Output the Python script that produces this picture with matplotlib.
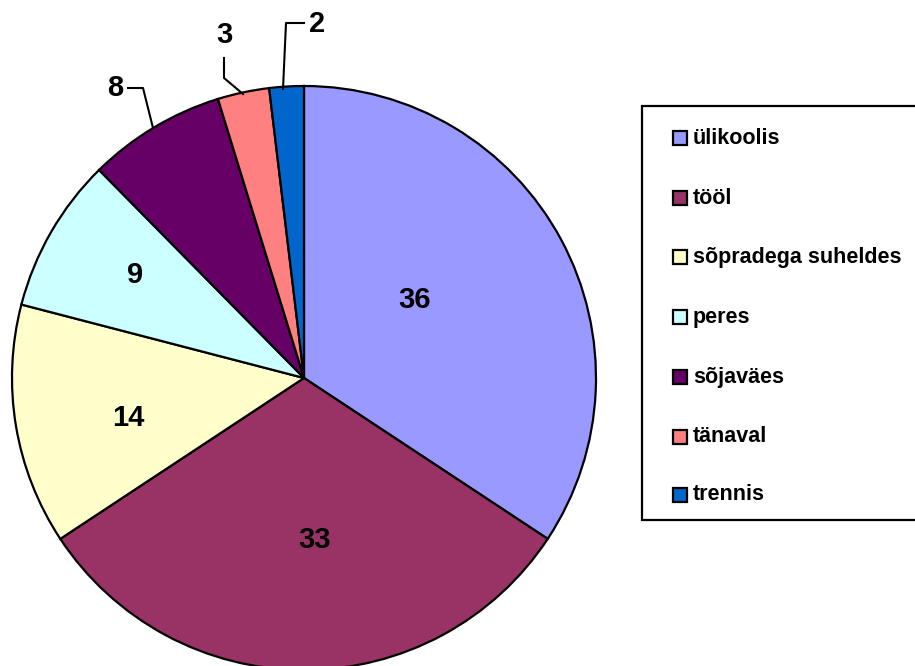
import matplotlib
matplotlib.use('Agg')
import matplotlib.pyplot as plt
from matplotlib.patches import Rectangle

categories = ['ülikoolis', 'tööl', 'sõpradega suheldes', 'peres', 'sõjaväes', 'tänaval', 'trennis']
values = [36, 33, 14, 9, 8, 3, 2]
colors = ['#9999FF', '#993366', '#FFFFCC', '#CCFFFF', '#660066', '#FF8080', '#0066CC']

# label positions (image pixel coords, y down)
label_pos = [(415, 300), (315, 540), (128, 418), (135, 275), (115, 88), (224, 35), (317, 24)]
# leader lines for small slices (image pixel coords)
leaders = {
    4: [(128, 88), (143, 88), (153, 128)],
    5: [(224, 58), (224, 78), (243, 94)],
    6: [(304, 23), (286, 23), (283, 89)],
}

W, H = 915, 666
plt.rcParams['font.family'] = ['Liberation Sans', 'DejaVu Sans']
fig = plt.figure(figsize=(W / 100, H / 100), dpi=100)
ax = fig.add_axes([0, 0, 1, 1])

def Y(y):
    return H - y

cx, cy, r = 304, 378, 292
ax.pie(values, colors=colors, startangle=90, counterclock=False,
       center=(cx, Y(cy)), radius=r,
       wedgeprops=dict(edgecolor='black', linewidth=1.6))
ax.set_xlim(0, W)
ax.set_ylim(0, H)
ax.set_aspect('auto')
ax.axis('off')

for i, v in enumerate(values):
    x, y = label_pos[i]
    ax.text(x, Y(y), str(v), ha='center', va='center', fontsize=21,
            fontweight='bold', color='black')
for i, pts in leaders.items():
    ax.plot([p[0] for p in pts], [Y(p[1]) for p in pts], color='black', lw=1.5)

# legend
ax.add_patch(Rectangle((642, Y(520)), 300, 520 - 106, facecolor='white',
                       edgecolor='black', lw=1.6, clip_on=False))
row_y = [138, 198, 257, 317, 377, 437, 495]
for i, cat in enumerate(categories):
    yy = row_y[i]
    ax.add_patch(Rectangle((673, Y(yy + 7)), 14, 14, facecolor=colors[i],
                           edgecolor='black', lw=1.6))
    ax.text(693, Y(yy), cat, ha='left', va='center', fontsize=15.5,
            fontweight='bold', color='black')

fig.savefig('out.png', dpi=100)
